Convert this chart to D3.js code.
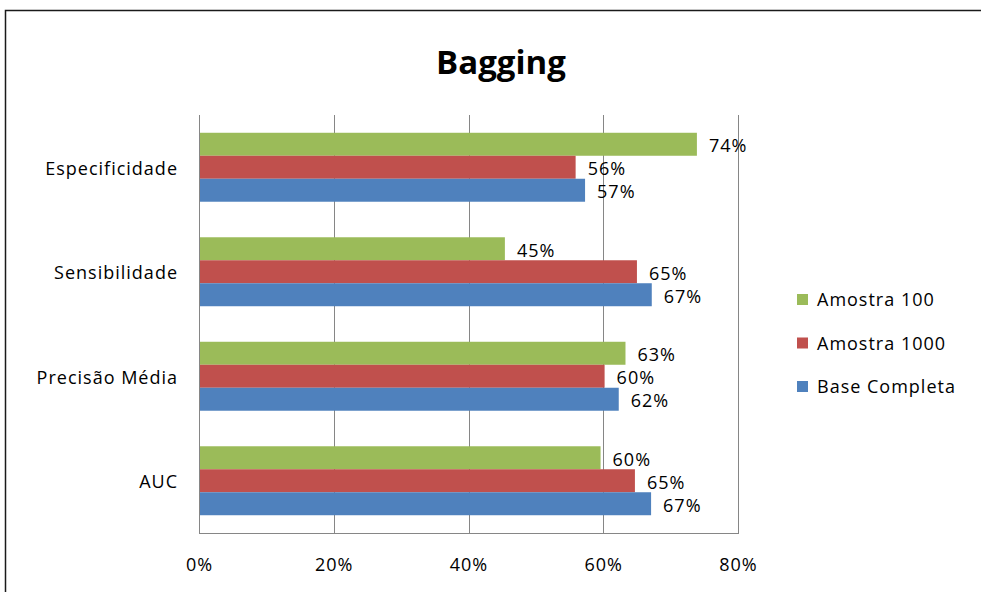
<!DOCTYPE html>
<html>
<head>
<meta charset="utf-8">
<script src="https://cdn.jsdelivr.net/npm/d3@7"></script>
<style>
  body { margin: 0; background: #fff; }
  svg { display: block; }
</style>
</head>
<body>
<svg id="chart"></svg>
<script>
// categories from bottom to top, as the reference shows them
var categories = ["AUC", "Precisão Média", "Sensibilidade", "Especificidade"];
// series, listed in the order they sit inside a group (top to bottom)
var seriesNames = ["Amostra 100", "Amostra 1000", "Base Completa"];
var seriesColors = ["#9BBB59", "#C0504D", "#4F81BD"];
var amostra100 = [0.596, 0.633, 0.454, 0.739];
var amostra1000 = [0.647, 0.602, 0.650, 0.559];
var baseCompleta = [0.671, 0.623, 0.672, 0.573];
var xTicks = [0, 0.2, 0.4, 0.6, 0.8];

var w = 981, h = 592;
var plot = { left: 199, right: 738, top: 115, bottom: 533 };
var fontFamily = "'Open Sans', 'DejaVu Sans', sans-serif";
var labelFont = { size: "18px", spacing: "1px" };

var svg = d3.select("#chart").attr("width", w).attr("height", h);

function styleText(sel) {
    sel.attr("font-family", fontFamily)
        .attr("font-size", labelFont.size)
        .attr("letter-spacing", labelFont.spacing)
        .attr("fill", "#000");
}

// outer frame of the chart object
svg.append("rect")
    .attr("x", 5.5).attr("y", 10.5)
    .attr("width", w + 20).attr("height", h + 20)
    .attr("fill", "#fff")
    .attr("stroke", "#1a1a1a")
    .attr("stroke-width", 1.5);

svg.append("text")
    .attr("x", 501).attr("y", 74)
    .attr("text-anchor", "middle")
    .attr("font-family", fontFamily)
    .attr("font-weight", "bold")
    .attr("font-size", "33px")
    .attr("fill", "#000")
    .text("Bagging");

var x = d3.scaleLinear().domain([0, 0.8]).range([plot.left, plot.right]);

// reversed so the first category lands at the bottom
var y = d3.scaleBand()
    .domain(categories.slice().reverse())
    .range([plot.top, plot.bottom])
    .paddingInner(0.34)
    .paddingOuter(0.17);

var ySub = d3.scaleBand().domain(seriesNames).range([0, y.bandwidth()]);

// gridlines
svg.append("g")
    .selectAll("line")
    .data(xTicks.slice(1))
    .join("line")
    .attr("x1", d => Math.round(x(d)) + 0.5)
    .attr("x2", d => Math.round(x(d)) + 0.5)
    .attr("y1", plot.top)
    .attr("y2", plot.bottom)
    .attr("stroke", "#868686")
    .attr("stroke-width", 1);

var series = [amostra100, amostra1000, baseCompleta];
var rows = [];
categories.forEach(function(cat, i) {
    seriesNames.forEach(function(s, j) {
        rows.push({ cat: cat, series: s, color: seriesColors[j], value: series[j][i] });
    });
});

svg.append("g")
    .selectAll("rect")
    .data(rows)
    .join("rect")
    .attr("x", x(0))
    .attr("y", d => y(d.cat) + ySub(d.series))
    .attr("width", d => x(d.value) - x(0))
    .attr("height", ySub.bandwidth())
    .attr("fill", d => d.color);

svg.append("g")
    .selectAll("text")
    .data(rows)
    .join("text")
    .attr("x", d => x(d.value) + 12)
    .attr("y", d => y(d.cat) + ySub(d.series) + ySub.bandwidth() / 2 + 8)
    .call(styleText)
    .text(d => Math.round(d.value * 100) + "%");

// axis lines: left and bottom
svg.append("line")
    .attr("x1", plot.left + 0.5).attr("x2", plot.left + 0.5)
    .attr("y1", plot.top).attr("y2", plot.bottom)
    .attr("stroke", "#868686");
svg.append("line")
    .attr("x1", plot.left).attr("x2", Math.round(x(0.8)) + 1)
    .attr("y1", plot.bottom + 0.5).attr("y2", plot.bottom + 0.5)
    .attr("stroke", "#868686");

// x axis labels
var xAxis = d3.axisBottom(x)
    .tickValues(xTicks)
    .tickFormat(d3.format(".0%"))
    .tickSize(0)
    .tickPadding(25);
var gx = svg.append("g")
    .attr("transform", "translate(0," + plot.bottom + ")")
    .call(xAxis);
gx.select(".domain").remove();
gx.selectAll("text").call(styleText);

// y axis labels
var yAxis = d3.axisLeft(y).tickSize(0).tickPadding(21);
var gy = svg.append("g")
    .attr("transform", "translate(" + plot.left + ",0)")
    .call(yAxis);
gy.select(".domain").remove();
gy.selectAll("text").call(styleText).attr("dy", "0.42em");

// legend
var legend = svg.append("g")
    .selectAll("g")
    .data(seriesNames)
    .join("g")
    .attr("transform", (d, i) => "translate(797," + (294 + i * 43.5) + ")");
legend.append("rect")
    .attr("width", 11).attr("height", 11)
    .attr("fill", (d, i) => seriesColors[i]);
legend.append("text")
    .attr("x", 20).attr("y", 12)
    .call(styleText)
    .text(d => d);
</script>
</body>
</html>
